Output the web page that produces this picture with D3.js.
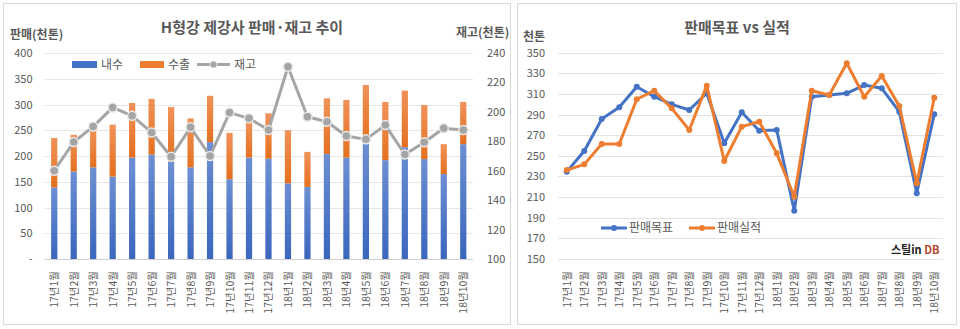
<!DOCTYPE html>
<html><head><meta charset="utf-8">
<script src="https://cdn.jsdelivr.net/npm/d3@7"></script>
<style>
html,body{margin:0;padding:0;background:#fff;}
svg text{font-family:"Noto Sans CJK KR","Noto Sans",sans-serif;}
</style></head>
<body><svg id="c" width="960" height="329"></svg>
<script>
const categories = ["17년1월","17년2월","17년3월","17년4월","17년5월","17년6월","17년7월","17년8월","17년9월","17년10월","17년11월","17년12월","18년1월","18년2월","18년3월","18년4월","18년5월","18년6월","18년7월","18년8월","18년9월","18년10월"];
const domestic = [139,170,178,160,197,203,189,178,227,155,197,195,147,140,204,197,225,192,217,194,165,223];
const exportV  = [96,71,72,101,106,108,106,95,90,90,68,88,103,68,108,112,113,113,110,105,58,82];
const stock    = [160,179.5,190,203,197.3,186,169.5,189.5,170,199.5,195.6,187.7,230.7,196.7,193.3,183.6,181.3,191,171,179.3,188.8,187.7];
const leftTicks = [0,50,100,150,200,250,300,350,400];
const rightTicks = [100,120,140,160,180,200,220,240];
const target = [234.5,254.6,285.6,297,317,307.3,299.9,294.4,310.6,262,292.1,274.3,275,196.6,307.3,308.9,310.6,318.6,315.4,292.7,213.5,290.2];
const actual = [236,241.6,261.4,261.4,304.8,313.1,296,275,318,244.9,278.2,283,252.3,210.2,313.1,308.9,339.7,307.3,327.4,298.3,223.2,306.3];
const ticks2 = [150,170,190,210,230,250,270,290,310,330,350];

const svg = d3.select("#c");
const txt = "#595959";
const defs = svg.append("defs");
function grad(id, c1, c2){
  const g = defs.append("linearGradient").attr("id",id).attr("x1",0).attr("y1",0).attr("x2",0).attr("y2",1);
  g.append("stop").attr("offset","0%").attr("stop-color",c1);
  g.append("stop").attr("offset","100%").attr("stop-color",c2);
}
grad("gBlue","#6d8fd3","#3a66bd");
grad("gOrange","#f0925a","#e4701f");

// panels
svg.append("rect").attr("x",3.5).attr("y",3.5).attr("width",507).attr("height",321).attr("fill","#fff").attr("stroke","#d9d9d9");
svg.append("rect").attr("x",517.5).attr("y",3.5).attr("width",439).attr("height",321).attr("fill","#fff").attr("stroke","#d9d9d9");

// ===== Left chart =====
const x1 = d3.scaleBand().domain(categories).range([44.5,473]).paddingInner(0.68).paddingOuter(0.34);
const yL = d3.scaleLinear().domain([0,400]).range([259,53]);
const yR = d3.scaleLinear().domain([100,240]).range([259,53]);

const gL = svg.append("g");
gL.selectAll("line.grid").data(leftTicks).join("line")
  .attr("x1",44.5).attr("x2",473).attr("y1",d=>Math.round(yL(d))+0.5).attr("y2",d=>Math.round(yL(d))+0.5)
  .attr("stroke",d=>d===0?"#d0d0d0":"#e6e6e6").attr("stroke-width",1);

const axL = gL.append("g").attr("transform","translate(44.5,0)")
  .call(d3.axisLeft(yL).tickValues(leftTicks).tickSize(0).tickPadding(12).tickFormat(d=>d===0?"-":d));
axL.select(".domain").remove();
axL.selectAll("text").attr("fill",txt).style("font-size","11px");

const axR = gL.append("g").attr("transform","translate(473,0)")
  .call(d3.axisRight(yR).tickValues(rightTicks).tickSize(0).tickPadding(14));
axR.select(".domain").remove();
axR.selectAll("text").attr("fill",txt).style("font-size","11px");

gL.selectAll("rect.dom").data(categories).join("rect")
  .attr("x",d=>x1(d)).attr("width",x1.bandwidth())
  .attr("y",(d,i)=>yL(domestic[i])).attr("height",(d,i)=>yL(0)-yL(domestic[i]))
  .attr("fill","url(#gBlue)");
gL.selectAll("rect.exp").data(categories).join("rect")
  .attr("x",d=>x1(d)).attr("width",x1.bandwidth())
  .attr("y",(d,i)=>yL(domestic[i]+exportV[i])).attr("height",(d,i)=>yL(domestic[i])-yL(domestic[i]+exportV[i]))
  .attr("fill","url(#gOrange)");

const xc1 = d=>x1(d)+x1.bandwidth()/2;
gL.append("path").datum(categories)
  .attr("d",d3.line().x(d=>xc1(d)).y((d,i)=>yR(stock[i])))
  .attr("fill","none").attr("stroke","#a5a5a5").attr("stroke-width",3).attr("stroke-linejoin","round");
gL.selectAll("circle.st").data(categories).join("circle")
  .attr("cx",d=>xc1(d)).attr("cy",(d,i)=>yR(stock[i])).attr("r",4.5)
  .attr("fill","#a5a5a5").attr("stroke","#e8e8e8").attr("stroke-width",1.5);

gL.selectAll("text.xl").data(categories).join("text")
  .attr("transform",d=>`translate(${xc1(d)+4},271) rotate(-90)`)
  .attr("text-anchor","end").attr("fill",txt).style("font-size","10.5px").text(d=>d);

svg.append("text").attr("x",252).attr("y",33).attr("text-anchor","middle").attr("fill",txt)
  .style("font-size","15px").style("font-weight","bold").text("H형강 제강사 판매·재고 추이");
svg.append("text").attr("x",10).attr("y",39).attr("fill",txt).style("font-size","12px").style("font-weight","bold").text("판매(천톤)");
svg.append("text").attr("x",456).attr("y",37).attr("fill",txt).style("font-size","12px").style("font-weight","bold").text("재고(천톤)");

// legend left
const lg = svg.append("g");
lg.append("rect").attr("x",72).attr("y",61).attr("width",25).attr("height",7).attr("fill","#4472c4");
lg.append("text").attr("x",101).attr("y",69).attr("fill",txt).style("font-size","12px").text("내수");
lg.append("rect").attr("x",140).attr("y",61).attr("width",24).attr("height",7).attr("fill","#ed7d31");
lg.append("text").attr("x",168).attr("y",69).attr("fill",txt).style("font-size","12px").text("수출");
lg.append("line").attr("x1",197).attr("x2",230).attr("y1",64.5).attr("y2",64.5).attr("stroke","#a5a5a5").attr("stroke-width",3);
lg.append("circle").attr("cx",213.5).attr("cy",64.5).attr("r",3.5).attr("fill","#a5a5a5").attr("stroke","#e8e8e8");
lg.append("text").attr("x",234).attr("y",69).attr("fill",txt).style("font-size","12px").text("재고");

// ===== Right chart =====
const x2 = d3.scalePoint().domain(categories).range([566.75,934.25]);
const y2 = d3.scaleLinear().domain([150,350]).range([258.7,52.7]);
const gR = svg.append("g");
gR.selectAll("line.grid").data(ticks2).join("line")
  .attr("x1",558).attr("x2",943).attr("y1",d=>Math.round(y2(d))+0.5).attr("y2",d=>Math.round(y2(d))+0.5)
  .attr("stroke","#e3e3e3");
const ax2 = gR.append("g").attr("transform","translate(558,0)")
  .call(d3.axisLeft(y2).tickValues(ticks2).tickSize(0).tickPadding(13));
ax2.select(".domain").remove();
ax2.selectAll("text").attr("fill",txt).style("font-size","11px");

function series(vals,color){
  gR.append("path").datum(categories)
    .attr("d",d3.line().x(d=>x2(d)).y((d,i)=>y2(vals[i])))
    .attr("fill","none").attr("stroke",color).attr("stroke-width",3).attr("stroke-linejoin","round");
  gR.selectAll(null).data(categories).join("circle")
    .attr("cx",d=>x2(d)).attr("cy",(d,i)=>y2(vals[i])).attr("r",3).attr("fill",color);
}
series(target,"#4472c4");
series(actual,"#ed7d31");

gR.selectAll("text.xl").data(categories).join("text")
  .attr("transform",d=>`translate(${x2(d)+4},271) rotate(-90)`)
  .attr("text-anchor","end").attr("fill",txt).style("font-size","10.5px").text(d=>d);

svg.append("text").attr("x",737).attr("y",33).attr("text-anchor","middle").attr("fill",txt)
  .style("font-size","15px").style("font-weight","bold").text("판매목표 vs 실적");
svg.append("text").attr("x",523).attr("y",41).attr("fill",txt).style("font-size","12px").style("font-weight","bold").text("천톤");

const lg2 = svg.append("g");
lg2.append("line").attr("x1",601).attr("x2",627).attr("y1",228).attr("y2",228).attr("stroke","#4472c4").attr("stroke-width",3);
lg2.append("circle").attr("cx",614).attr("cy",228).attr("r",3).attr("fill","#4472c4");
lg2.append("text").attr("x",629).attr("y",232).attr("fill",txt).style("font-size","12px").text("판매목표");
lg2.append("line").attr("x1",689).attr("x2",715).attr("y1",228).attr("y2",228).attr("stroke","#ed7d31").attr("stroke-width",3);
lg2.append("circle").attr("cx",702).attr("cy",228).attr("r",3).attr("fill","#ed7d31");
lg2.append("text").attr("x",717).attr("y",232).attr("fill",txt).style("font-size","12px").text("판매실적");

const wm = svg.append("text").attr("x",891).attr("y",254).style("font-size","11px").style("font-weight","bold");
wm.append("tspan").attr("fill","#222").text("스틸in ");
wm.append("tspan").attr("fill","#b5462a").text("DB");
</script></body></html>
